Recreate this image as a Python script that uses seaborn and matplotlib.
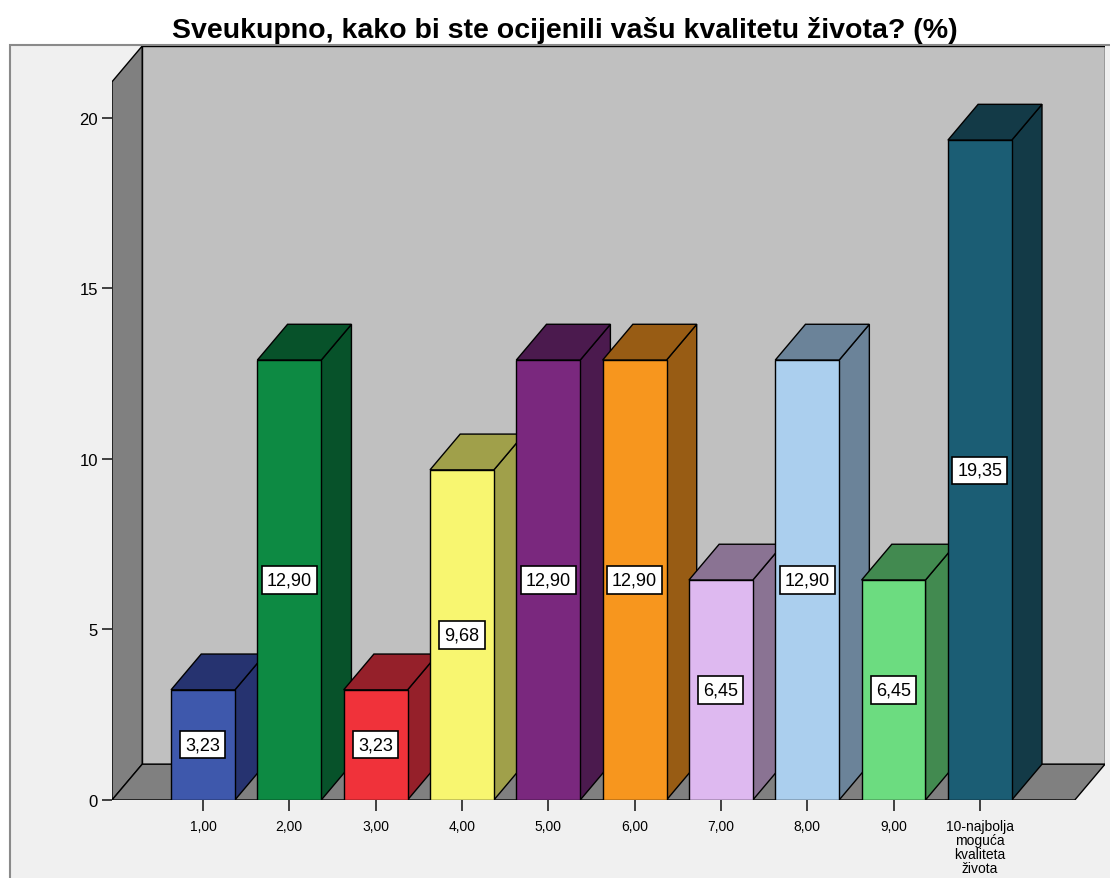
import matplotlib
matplotlib.use("Agg")
import matplotlib.pyplot as plt
from matplotlib.patches import Polygon, Rectangle
import seaborn as sns
import pandas as pd

categories = ["1,00", "2,00", "3,00", "4,00", "5,00", "6,00", "7,00", "8,00", "9,00",
              "10-najbolja\nmoguća\nkvaliteta\nživota"]
values = [3.23, 12.90, 3.23, 9.68, 12.90, 12.90, 6.45, 12.90, 6.45, 19.35]
value_labels = ["3,23", "12,90", "3,23", "9,68", "12,90", "12,90", "6,45", "12,90", "6,45", "19,35"]
front_colors = ["#3e58ac", "#0d8a43", "#f0323a", "#f8f670", "#7a287e",
                "#f7961e", "#deb9f0", "#abcfee", "#6cdc80", "#1b5d74"]
shade_colors = ["#263370", "#07522a", "#95202a", "#a0a04a", "#4b1a4e",
                "#985c14", "#8a7393", "#6b8399", "#428a50", "#133a47"]
yticks = [0, 5, 10, 15, 20]
title = "Sveukupno, kako bi ste ocijenili vašu kvalitetu života? (%)"

sns.set_style("white")
plt.rcParams['font.family'] = ['Liberation Sans', 'DejaVu Sans']
plt.rcParams['text.color'] = 'black'
plt.rcParams['xtick.color'] = 'black'
plt.rcParams['ytick.color'] = 'black'

W, H = 1110, 879
fig = plt.figure(figsize=(W / 100, H / 100), dpi=100, facecolor="white")

# outer frame
fig.patches.append(Rectangle((10 / W, -0.1), 1.2, (H - 46) / H + 0.1, transform=fig.transFigure,
                             facecolor="#f0f0f0", edgecolor="#8a8a8a", lw=1.5, zorder=-10))

ax = fig.add_axes([112 / W, (H - 801) / H, (1105 - 112) / W, (801 - 47) / H])
ax.set_facecolor("none")

df = pd.DataFrame({"cat": categories, "val": values})
sns.barplot(data=df, x="cat", y="val", hue="cat", palette=front_colors, order=categories,
            hue_order=categories, legend=False, width=0.74, saturation=1,
            edgecolor="black", linewidth=1, ax=ax)

xmin, xmax = -1.054, 10.45
ymax = 22.11
dx, dy = 0.35, 1.05
wall_h = ymax - dy
floor_right = xmax - dx

ax.set_xlim(xmin, xmax)
ax.set_ylim(0, ymax)

# walls and floor
ax.add_patch(Polygon([(xmin, 0), (xmin, wall_h), (xmin + dx, wall_h + dy), (xmin + dx, dy)],
                     closed=True, facecolor="#808080", edgecolor="black", lw=1, zorder=0.5))
ax.add_patch(Rectangle((xmin + dx, dy), floor_right - xmin, wall_h,
                       facecolor="#c0c0c0", edgecolor="black", lw=1, zorder=0.4))
ax.add_patch(Polygon([(xmin, 0), (floor_right, 0), (floor_right + dx, dy), (xmin + dx, dy)],
                     closed=True, facecolor="#808080", edgecolor="black", lw=1, zorder=0.6))

patches = sorted([p for p in ax.patches if isinstance(p, Rectangle) and p.get_height() > 0
                  and p.get_width() < 1], key=lambda p: p.get_x())
for i, p in enumerate(patches):
    x0, w, h = p.get_x(), p.get_width(), p.get_height()
    p.set_zorder(3 + 2 * i)
    side = Polygon([(x0 + w, 0), (x0 + w, h), (x0 + w + dx, h + dy), (x0 + w + dx, dy)],
                   closed=True, facecolor=shade_colors[i], edgecolor="black", lw=1, zorder=2.5 + 2 * i)
    top = Polygon([(x0, h), (x0 + w, h), (x0 + w + dx, h + dy), (x0 + dx, h + dy)],
                  closed=True, facecolor=shade_colors[i], edgecolor="black", lw=1, zorder=2.5 + 2 * i)
    ax.add_patch(side)
    ax.add_patch(top)
    ax.text(x0 + w / 2, h / 2, value_labels[i], ha="center", va="center", fontsize=13,
            color="black", zorder=50,
            bbox=dict(boxstyle="square,pad=0.28", facecolor="white", edgecolor="black", lw=1.2))

for s in ax.spines.values():
    s.set_visible(False)
ax.set_xlabel("")
ax.set_ylabel("")
ax.set_xticks(range(len(categories)))
ax.set_xticklabels(categories, fontsize=10, linespacing=1.0)
ax.set_yticks(yticks)
ax.set_yticklabels([str(t) for t in yticks], fontsize=12)
ax.tick_params(axis="x", direction="out", length=8, width=1.2, color="#222222", pad=6,
               bottom=True)
ax.tick_params(axis="y", direction="out", length=7, width=1.2, color="#222222", pad=3, left=True)

fig.text(0.509, 1 - 30 / H, title, ha="center", va="center", fontsize=20.5, fontweight="bold",
         color="black")

fig.savefig("out.png", dpi=100, facecolor="white")
